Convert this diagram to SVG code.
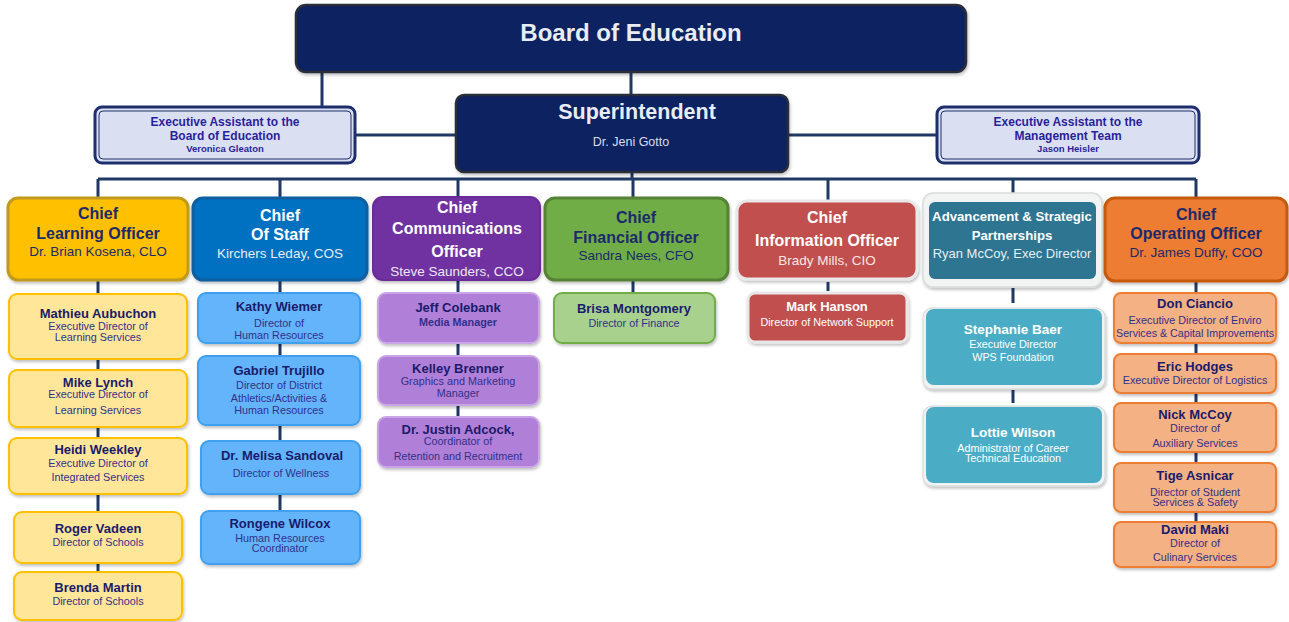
<svg xmlns="http://www.w3.org/2000/svg" width="1289" height="622" viewBox="0 0 1289 622">
<defs>
<filter id="sh" x="-10%" y="-10%" width="120%" height="130%">
<feDropShadow dx="1" dy="2" stdDeviation="1.5" flood-color="#000" flood-opacity="0.25"/>
</filter>
</defs>
<style>
text{font-family:"Liberation Sans",Arial,sans-serif;text-anchor:middle}
.b{font-weight:bold}
.wt{fill:#ffffff}
.nv{fill:#1c2a6b}
.nm{font-size:13px;font-weight:bold;fill:#1b1b6b}
.sb{font-size:10.8px;fill:#33308a}
.wn{font-size:13px;font-weight:bold;fill:#ffffff}
.ws{font-size:10.8px;fill:#ffffff}
.ct{font-size:16px;font-weight:bold}
.cn{font-size:13.5px}
.ea{font-size:12px;font-weight:bold;fill:#2a1f9a}
.ean{font-size:9.5px;font-weight:bold;fill:#2a1f9a}
.ln{stroke:#1f3864;stroke-width:3;fill:none}
.y1{fill:#ffe699;stroke:#ffc000;stroke-width:2}
.b1{fill:#63b4fb;stroke:#3fa0f0;stroke-width:2}
.p1{fill:#b07fd8;stroke:#c9a5e6;stroke-width:2}
.o1{fill:#f4b183;stroke:#ed7d31;stroke-width:2}
</style>
<g id="connectors">
<path class="ln" d="M322,72V107 M631,72V95 M355,135H456 M788,135H937 M632,172V179 M98,179H1196"/>
<path class="ln" d="M98,179V198 M280,179V198 M458,179V197 M633,179V198 M828,179V202 M1013,179V193 M1196,179V198"/>
<path class="ln" d="M98,280V294 M98,359V370 M98,427V438 M98,494V512 M98,563V572"/>
<path class="ln" d="M280,280V293 M280,343V356 M280,425V441 M280,494V511"/>
<path class="ln" d="M458,280V293 M458,343V356 M458,405V417"/>
<path class="ln" d="M633,280V293"/>
<path class="ln" d="M828,282V291"/>
<path class="ln" d="M1013,288V303 M1013,390V403"/>
<path class="ln" d="M1196,281V293 M1196,343V354 M1196,393V403 M1196,452V463 M1196,512V522"/>
</g>
<g id="board">
<rect x="296" y="5" width="670" height="67" rx="10" fill="#0d2260" stroke="#2b2f3a" stroke-width="2.5" filter="url(#sh)"/>
<text x="631" y="40.5" class="b" font-size="24" fill="#e8ecf4">Board of Education</text>
</g>
<g id="superintendent">
<rect x="456" y="95" width="332" height="77" rx="8" fill="#0d2260" stroke="#2b2f3a" stroke-width="2.5" filter="url(#sh)"/>
<text x="637" y="118.5" class="b" font-size="21.5" fill="#e8ecf4">Superintendent</text>
<text x="631" y="146" font-size="12.5" fill="#d8dcea">Dr. Jeni Gotto</text>
</g>
<g id="asst-board">
<rect x="95" y="107" width="260" height="56" rx="7" fill="#dae0f2" stroke="#1f2f6e" stroke-width="3"/>
<rect x="99" y="111" width="252" height="48" rx="4" fill="none" stroke="#1f2f6e" stroke-width="1"/>
<text x="225" y="126" class="ea">Executive Assistant to the</text>
<text x="225" y="140" class="ea">Board of Education</text>
<text x="225" y="151.5" class="ean">Veronica Gleaton</text>
</g>
<g id="asst-mgmt">
<rect x="937" y="107" width="262" height="56" rx="7" fill="#dae0f2" stroke="#1f2f6e" stroke-width="3"/>
<rect x="941" y="111" width="254" height="48" rx="4" fill="none" stroke="#1f2f6e" stroke-width="1"/>
<text x="1068" y="126" class="ea">Executive Assistant to the</text>
<text x="1068" y="140" class="ea">Management Team</text>
<text x="1068" y="151.5" class="ean">Jason Heisler</text>
</g>
<g id="clo">
<rect x="8" y="198" width="180" height="82" rx="10" fill="#ffc000" stroke="#c09a1a" stroke-width="3" filter="url(#sh)"/>
<text x="98" y="218.5" class="ct nv">Chief</text>
<text x="98" y="238.5" class="ct nv">Learning Officer</text>
<text x="98" y="256" class="cn nv">Dr. Brian Kosena, CLO</text>
</g>
<g id="cos">
<rect x="193" y="198" width="174" height="82" rx="10" fill="#0070c0" stroke="#0b5fa0" stroke-width="3" filter="url(#sh)"/>
<text x="280" y="220.5" class="ct wt">Chief</text>
<text x="280" y="239.5" class="ct wt">Of Staff</text>
<text x="280" y="258" class="cn" fill="#e6eef8">Kirchers Leday, COS</text>
</g>
<g id="cco">
<rect x="373" y="197" width="167" height="83" rx="10" fill="#7030a0" stroke="#6a2c98" stroke-width="2" filter="url(#sh)"/>
<text x="457" y="212.5" class="ct wt" font-size="15.5">Chief</text>
<text x="457" y="233.5" class="ct wt" font-size="15.5">Communications</text>
<text x="457" y="256.5" class="ct wt" font-size="15.5">Officer</text>
<text x="457" y="276" class="cn" fill="#eee6f4">Steve Saunders, CCO</text>
</g>
<g id="cfo">
<rect x="545" y="198" width="183" height="82" rx="10" fill="#70ad47" stroke="#548235" stroke-width="3" filter="url(#sh)"/>
<text x="636" y="222.5" class="ct nv">Chief</text>
<text x="636" y="242.5" class="ct nv">Financial Officer</text>
<text x="636" y="260" class="cn nv">Sandra Nees, CFO</text>
</g>
<g id="cio">
<rect x="737" y="201" width="180" height="78" rx="10" fill="#c0504d" stroke="#e8e8e8" stroke-width="3" filter="url(#sh)"/>
<text x="827" y="222.5" class="ct wt">Chief</text>
<text x="827" y="245.5" class="ct wt">Information Officer</text>
<text x="827" y="265" class="cn" fill="#f6e6e6">Brady Mills, CIO</text>
</g>
<g id="adv">
<rect x="923" y="193" width="179" height="94" rx="10" fill="#f2f4f4" stroke="#d8dcdc" stroke-width="1.5" filter="url(#sh)"/>
<rect x="929" y="202" width="167" height="77" rx="6" fill="#2e7592"/>
<text x="1012" y="220.5" font-size="13.2" class="b wt">Advancement &amp; Strategic</text>
<text x="1012" y="239.5" font-size="13.2" class="b wt">Partnerships</text>
<text x="1012" y="257.5" font-size="13" fill="#e6eff3">Ryan McCoy, Exec Director</text>
</g>
<g id="coo">
<rect x="1105" y="198" width="182" height="83" rx="10" fill="#ed7d31" stroke="#c55a11" stroke-width="3" filter="url(#sh)"/>
<text x="1196" y="219.5" class="ct nv">Chief</text>
<text x="1196" y="238.5" class="ct nv">Operating Officer</text>
<text x="1196" y="257" class="cn nv">Dr. James Duffy, COO</text>
</g>
<g id="aubuchon">
<rect class="y1" x="9" y="294" width="178" height="65" rx="8" filter="url(#sh)"/>
<text x="98" y="317.5" class="nm">Mathieu Aubuchon</text>
<text x="98" y="330" class="sb">Executive Director of</text>
<text x="98" y="341" class="sb">Learning Services</text>
</g>
<g id="lynch">
<rect class="y1" x="9" y="370" width="178" height="57" rx="8" filter="url(#sh)"/>
<text x="98" y="386.5" class="nm">Mike Lynch</text>
<text x="98" y="398" class="sb">Executive Director of</text>
<text x="98" y="414" class="sb">Learning Services</text>
</g>
<g id="weekley">
<rect class="y1" x="9" y="438" width="178" height="56" rx="8" filter="url(#sh)"/>
<text x="98" y="453.5" class="nm">Heidi Weekley</text>
<text x="98" y="467" class="sb">Executive Director of</text>
<text x="98" y="481" class="sb">Integrated Services</text>
</g>
<g id="vadeen">
<rect class="y1" x="14" y="512" width="168" height="51" rx="8" filter="url(#sh)"/>
<text x="98" y="532.5" class="nm">Roger Vadeen</text>
<text x="98" y="546" class="sb">Director of Schools</text>
</g>
<g id="martin">
<rect class="y1" x="14" y="572" width="168" height="48" rx="8" filter="url(#sh)"/>
<text x="98" y="591.5" class="nm">Brenda Martin</text>
<text x="98" y="605" class="sb">Director of Schools</text>
</g>
<g id="wiemer">
<rect class="b1" x="198" y="293" width="162" height="50" rx="8" filter="url(#sh)"/>
<text x="279" y="310.5" class="nm">Kathy Wiemer</text>
<text x="279" y="327" class="sb">Director of</text>
<text x="279" y="339" class="sb">Human Resources</text>
</g>
<g id="trujillo">
<rect class="b1" x="198" y="356" width="162" height="69" rx="8" filter="url(#sh)"/>
<text x="279" y="374.5" class="nm">Gabriel Trujillo</text>
<text x="279" y="389" class="sb">Director of District</text>
<text x="279" y="402" class="sb">Athletics/Activities &amp;</text>
<text x="279" y="414" class="sb">Human Resources</text>
</g>
<g id="sandoval">
<rect class="b1" x="201" y="441" width="159" height="53" rx="8" filter="url(#sh)"/>
<text x="282" y="459.5" class="nm">Dr. Melisa Sandoval</text>
<text x="281" y="477" class="sb">Director of Wellness</text>
</g>
<g id="wilcox">
<rect class="b1" x="201" y="511" width="159" height="53" rx="8" filter="url(#sh)"/>
<text x="280" y="527.5" class="nm">Rongene Wilcox</text>
<text x="280" y="542" class="sb">Human Resources</text>
<text x="280" y="552" class="sb">Coordinator</text>
</g>
<g id="colebank">
<rect class="p1" x="378" y="293" width="161" height="50" rx="8" filter="url(#sh)"/>
<text x="458" y="311.5" class="nm">Jeff Colebank</text>
<text x="458" y="326" class="sb b" fill="#1b1b6b">Media Manager</text>
</g>
<g id="brenner">
<rect class="p1" x="378" y="356" width="161" height="49" rx="8" filter="url(#sh)"/>
<text x="458" y="372.5" class="nm">Kelley Brenner</text>
<text x="458" y="385" class="sb">Graphics and Marketing</text>
<text x="458" y="397" class="sb">Manager</text>
</g>
<g id="adcock">
<rect class="p1" x="378" y="417" width="161" height="50" rx="8" filter="url(#sh)"/>
<text x="458" y="433.5" class="nm">Dr. Justin Adcock,</text>
<text x="458" y="445" class="sb">Coordinator of</text>
<text x="458" y="460" class="sb">Retention and Recruitment</text>
</g>
<g id="montgomery">
<rect x="554" y="293" width="161" height="50" rx="8" fill="#a9d18e" stroke="#70ad47" stroke-width="2" filter="url(#sh)"/>
<text x="634" y="312.5" class="nm">Brisa Montgomery</text>
<text x="634" y="327" class="sb">Director of Finance</text>
</g>
<g id="hanson">
<rect x="748" y="293" width="159" height="49" rx="7" fill="#c0504d" stroke="#e8e8e8" stroke-width="3" filter="url(#sh)"/>
<text x="827" y="310.5" class="wn">Mark Hanson</text>
<text x="827" y="326" class="ws">Director of Network Support</text>
</g>
<g id="baer">
<rect x="923" y="308" width="182" height="81" rx="9" fill="#eef2f2" stroke="#d0d6d6" stroke-width="1" filter="url(#sh)"/>
<rect x="926" y="309" width="176" height="76" rx="8" fill="#4bacc6"/>
<text x="1013" y="334" font-size="13.5" class="b wt">Stephanie Baer</text>
<text x="1013" y="348" class="ws">Executive Director</text>
<text x="1013" y="361" class="ws">WPS Foundation</text>
</g>
<g id="wilson">
<rect x="923" y="406" width="182" height="80" rx="9" fill="#eef2f2" stroke="#d0d6d6" stroke-width="1" filter="url(#sh)"/>
<rect x="926" y="407" width="176" height="76" rx="8" fill="#4bacc6"/>
<text x="1013" y="437" font-size="13.5" class="b wt">Lottie Wilson</text>
<text x="1013" y="452" class="ws">Administrator of Career</text>
<text x="1013" y="462" class="ws">Technical Education</text>
</g>
<g id="ciancio">
<rect class="o1" x="1114" y="293" width="162" height="50" rx="7" filter="url(#sh)"/>
<text x="1195" y="307.5" class="nm">Don Ciancio</text>
<text x="1195" y="324" class="sb">Executive Director of Enviro</text>
<text x="1195" y="337" class="sb" textLength="158" lengthAdjust="spacingAndGlyphs">Services &amp; Capital Improvements</text>
</g>
<g id="hodges">
<rect class="o1" x="1114" y="354" width="162" height="39" rx="7" filter="url(#sh)"/>
<text x="1195" y="370.5" class="nm">Eric Hodges</text>
<text x="1195" y="384" class="sb">Executive Director of Logistics</text>
</g>
<g id="mccoy">
<rect class="o1" x="1114" y="403" width="162" height="49" rx="7" filter="url(#sh)"/>
<text x="1195" y="418.5" class="nm">Nick McCoy</text>
<text x="1195" y="432" class="sb">Director of</text>
<text x="1195" y="447" class="sb">Auxiliary Services</text>
</g>
<g id="asnicar">
<rect class="o1" x="1114" y="463" width="162" height="49" rx="7" filter="url(#sh)"/>
<text x="1195" y="479.5" class="nm">Tige Asnicar</text>
<text x="1195" y="496" class="sb">Director of Student</text>
<text x="1195" y="506" class="sb">Services &amp; Safety</text>
</g>
<g id="maki">
<rect class="o1" x="1114" y="522" width="162" height="45" rx="7" filter="url(#sh)"/>
<text x="1195" y="533.5" class="nm">David Maki</text>
<text x="1195" y="547" class="sb">Director of</text>
<text x="1195" y="561" class="sb">Culinary Services</text>
</g>
</svg>
